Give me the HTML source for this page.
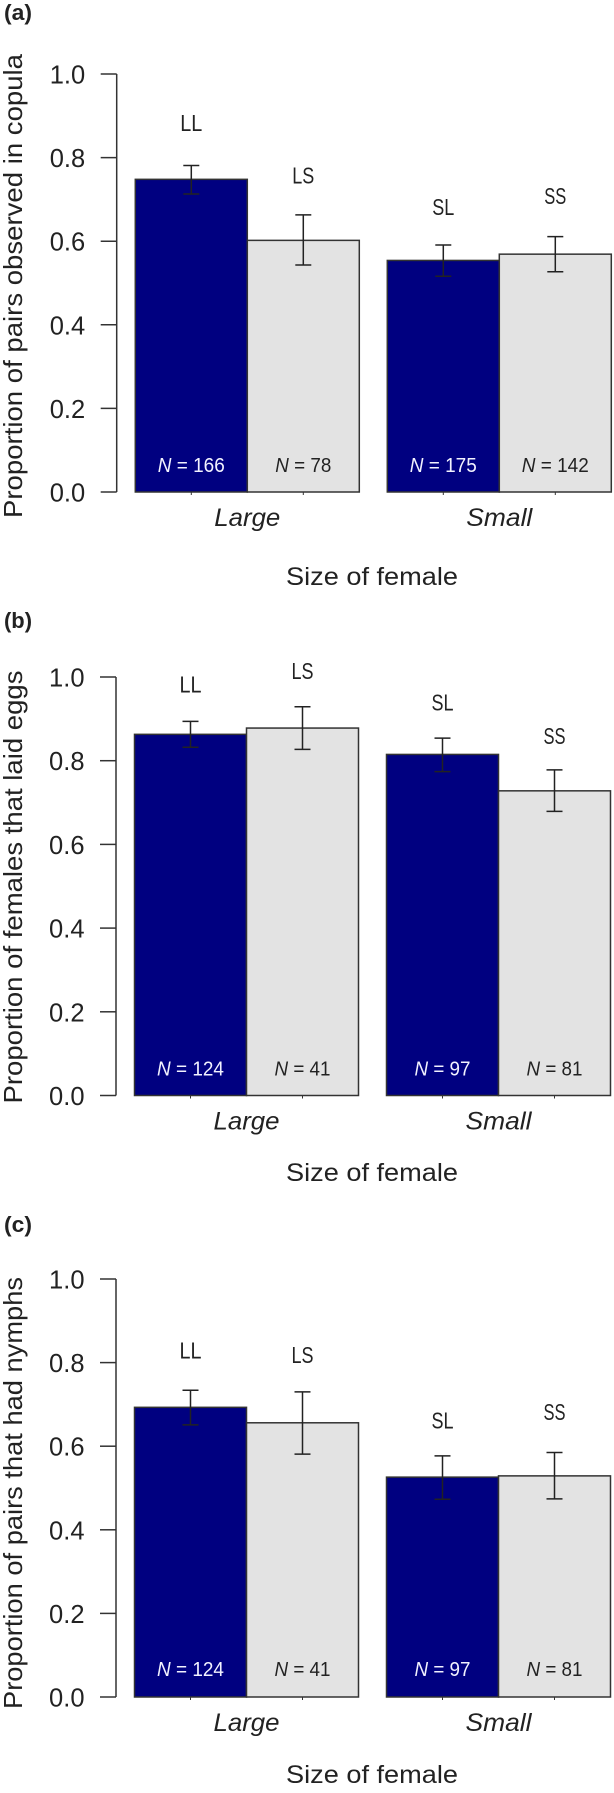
<!DOCTYPE html>
<html lang="en">
<head>
<meta charset="utf-8">
<title>Mating, egg laying and nymph production by female and male size</title>
<style>
  html, body { margin: 0; padding: 0; background: #fff; }
  svg { display: block; }
  text { font-family: "Liberation Sans", sans-serif; fill: #222; }
</style>
</head>
<body>
<svg id="figure" xmlns="http://www.w3.org/2000/svg" width="614" height="1793" viewBox="0 0 614 1793"></svg>
<script>
const pairLabels = ['LL', 'LS', 'SL', 'SS'];
const groupLabels = ['Large', 'Small'];
const yTickValues = [0, 0.2, 0.4, 0.6, 0.8, 1];
const yTickLabels = ['0.0', '0.2', '0.4', '0.6', '0.8', '1.0'];

const proportionsA = [0.748, 0.602, 0.554, 0.569];
const errorLowA = [0.713, 0.543, 0.516, 0.527];
const errorHighA = [0.781, 0.663, 0.591, 0.611];
const sampleSizesA = [166, 78, 175, 142];
const labelLevelsA = [0.879, 0.754, 0.678, 0.704];

const proportionsB = [0.863, 0.878, 0.815, 0.728];
const errorLowB = [0.832, 0.827, 0.774, 0.679];
const errorHighB = [0.894, 0.929, 0.854, 0.778];
const sampleSizesB = [124, 41, 97, 81];
const labelLevelsB = [0.979, 1.011, 0.936, 0.856];

const proportionsC = [0.693, 0.656, 0.526, 0.529];
const errorLowC = [0.651, 0.581, 0.473, 0.474];
const errorHighC = [0.734, 0.730, 0.577, 0.585];
const sampleSizesC = [124, 41, 97, 81];
const labelLevelsC = [0.825, 0.814, 0.658, 0.678];

const NS = 'http://www.w3.org/2000/svg';
const svg = document.getElementById('figure');

function make(tag, parent, attrs, text) {
  const el = document.createElementNS(NS, tag);
  for (const k in attrs) el.setAttribute(k, attrs[k]);
  if (text !== undefined) el.textContent = text;
  parent.appendChild(el);
  return el;
}

function drawPanel(p) {
  const y = v => p.y0 + (p.y1 - p.y0) * v;
  const barWidth = 112;
  const barLeft = i => p.barStart + i * barWidth + (i > 1 ? 28 : 0);
  const barCenter = i => barLeft(i) + barWidth / 2;
  const groupCenter = g => barLeft(g * 2 + 1);

  const g = make('g', svg, {});
  
  

  const letter = make('text', g, { x: 4, y: p.letterY, 'font-size': 22, 'font-weight': 'bold', textLength: 28, lengthAdjust: 'spacingAndGlyphs' }, '(' + p.key + ')');
  
  

  p.values.forEach((v, i) => {
    const bar = make('rect', g, {
      x: barLeft(i), y: y(v), width: barWidth, height: y(0) - y(v),
      fill: i % 2 === 0 ? '#000080' : '#e3e3e3', stroke: '#333', 'stroke-width': 1.5
    });
    
    
  });

  p.values.forEach((v, i) => {
    const cx = barCenter(i);
    const err = make('path', g, {
      d: 'M' + (cx - 8) + ' ' + y(p.high[i]) + 'H' + (cx + 8) +
         'M' + cx + ' ' + y(p.high[i]) + 'V' + y(p.low[i]) +
         'M' + (cx - 8) + ' ' + y(p.low[i]) + 'H' + (cx + 8),
      fill: 'none', stroke: '#222', 'stroke-width': 1.5
    });
    
    

    const tick = make('line', g, { x1: cx, x2: cx, y1: y(0), y2: y(0) + 3, stroke: '#333', 'stroke-width': 1 });
    
    

    const pair = make('text', g, {
      x: cx, y: y(p.levels[i]) + 6.5, 'font-size': 23, 'text-anchor': 'middle',
      textLength: 22, lengthAdjust: 'spacingAndGlyphs'
    }, pairLabels[i]);
    
    

    const n = make('text', g, {
      x: cx, y: y(0) - p.nOffset, 'font-size': 20.5, 'text-anchor': 'middle',
      textLength: String(p.sizes[i]).length > 2 ? 67 : 56, lengthAdjust: 'spacingAndGlyphs'
    });
    n.style.fill = i % 2 === 0 ? '#f2f2ff' : '#222';
    
    
    make('tspan', n, { 'font-style': 'italic' }, 'N');
    make('tspan', n, {}, ' = ' + p.sizes[i]);
  });

  const axis = make('path', g, {
    d: 'M' + p.axisX + ' ' + y(1) + 'V' + y(0),
    fill: 'none', stroke: '#333', 'stroke-width': 1.5
  });
  
  

  yTickValues.forEach((v, i) => {
    const tick = make('line', g, { x1: p.axisX - 16, x2: p.axisX, y1: y(v), y2: y(v), stroke: '#333', 'stroke-width': 1.5 });
    
    
    const label = make('text', g, { x: p.axisX - 31.5, y: y(v) + 9.5, 'font-size': 25.5, 'text-anchor': 'end' }, yTickLabels[i]);
    
    
  });

  groupLabels.forEach((name, i) => {
    const label = make('text', g, {
      x: groupCenter(i), y: y(0) + 34, 'font-size': 25, 'font-style': 'italic',
      'text-anchor': 'middle', textLength: 66, lengthAdjust: 'spacingAndGlyphs'
    }, name);
    
    
  });

  const xTitle = make('text', g, {
    x: 372, y: p.xTitleY, 'font-size': 25, 'text-anchor': 'middle',
    textLength: 172, lengthAdjust: 'spacingAndGlyphs'
  }, 'Size of female');
  
  

  const yTitle = make('text', g, {
    transform: 'translate(22 ' + p.titleBottom + ') rotate(-90)',
    'font-size': 26, textLength: p.titleLength, lengthAdjust: 'spacingAndGlyphs'
  }, p.title);
  
  
}

drawPanel({
  key: 'a', title: 'Proportion of pairs observed in copula',
  values: proportionsA, low: errorLowA, high: errorHighA, sizes: sampleSizesA, levels: labelLevelsA,
  y0: 492, y1: 74, axisX: 116.7, barStart: 135.3, letterY: 20, xTitleY: 585, titleBottom: 518, titleLength: 464, nOffset: 20
});
drawPanel({
  key: 'b', title: 'Proportion of females that laid eggs',
  values: proportionsB, low: errorLowB, high: errorHighB, sizes: sampleSizesB, levels: labelLevelsB,
  y0: 1095.5, y1: 677, axisX: 116, barStart: 134.5, letterY: 628, xTitleY: 1181, titleBottom: 1103.5, titleLength: 433, nOffset: 20
});
drawPanel({
  key: 'c', title: 'Proportion of pairs that had nymphs',
  values: proportionsC, low: errorLowC, high: errorHighC, sizes: sampleSizesC, levels: labelLevelsC,
  y0: 1697, y1: 1279, axisX: 116, barStart: 134.5, letterY: 1232, xTitleY: 1783, titleBottom: 1709, titleLength: 432, nOffset: 21
});
</script>
</body>
</html>
